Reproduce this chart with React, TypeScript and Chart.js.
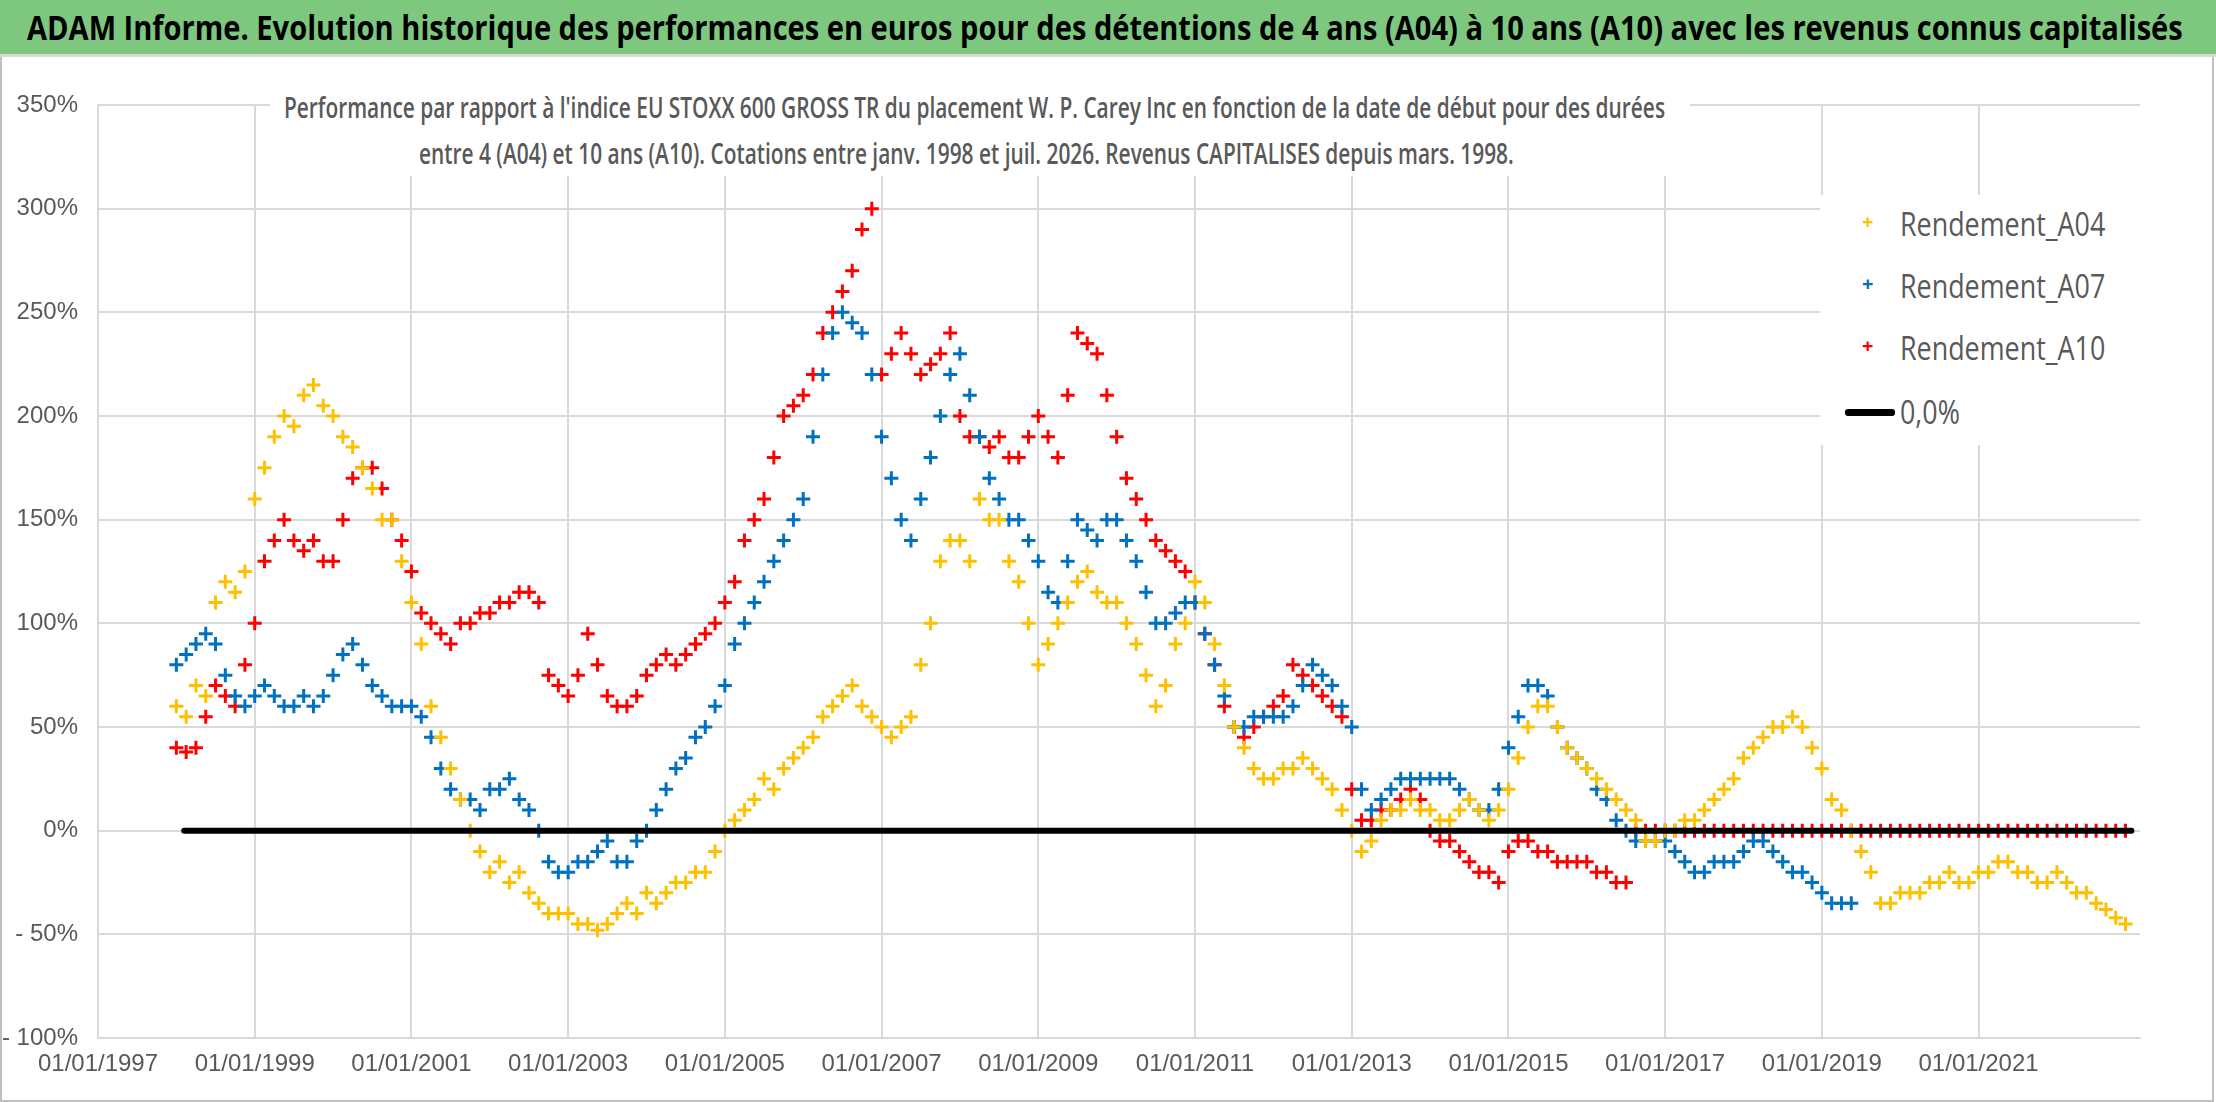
import React, { useEffect, useRef } from "react";
import { Chart, registerables } from "chart.js";
Chart.register(...registerables);

const TITLE = "ADAM Informe. Evolution historique des performances en euros pour des détentions de 4 ans (A04) à 10 ans (A10) avec les revenus connus capitalisés";
const SUB1 = "Performance par rapport à l'indice EU STOXX 600 GROSS TR  du placement W. P. Carey Inc en fonction de la date de début pour des durées";
const SUB2 = "entre 4 (A04) et 10 ans (A10). Cotations entre janv. 1998 et juil. 2026. Revenus CAPITALISES depuis mars. 1998.";
const Y_TICKS = [350, 300, 250, 200, 150, 100, 50, 0, -50, -100];
const X_TICK_YEARS = [1997, 1999, 2001, 2003, 2005, 2007, 2009, 2011, 2013, 2015, 2017, 2019, 2021];
const STEP = 0.125;

const A04_START = 1998;
const A04 = [
  60,55,70,65,110,120,115,125,
  160,175,190,200,195,210,215,205,
  200,190,185,175,165,150,150,130,
  110,90,60,45,30,15,0,-10,
  -20,-15,-25,-20,-30,-35,-40,-40,
  -40,-45,-45,-48,-45,-40,-35,-40,
  -30,-35,-30,-25,-25,-20,-20,-10,
  0,5,10,15,25,20,30,35,
  40,45,55,60,65,70,60,55,
  50,45,50,55,80,100,130,140,
  140,130,160,150,150,130,120,100,
  80,90,100,110,120,125,115,110,
  110,100,90,75,60,70,90,100,
  120,110,90,70,50,40,30,25,
  25,30,30,35,30,25,20,10,
  0,-10,-5,5,10,10,15,10,
  10,5,5,10,15,10,5,10,
  20,35,50,60,60,50,40,35,
  30,25,20,15,10,5,-5,-5,
  0,0,5,5,10,15,20,25,
  35,40,45,50,50,55,50,40,
  30,15,10,0,-10,-20,-35,-35,
  -30,-30,-30,-25,-25,-20,-25,-25,
  -20,-20,-15,-15,-20,-20,-25,-25,
  -20,-25,-30,-30,-35,-38,-42,-45,
];
const A07_START = 1998;
const A07 = [
  80,85,90,95,90,75,65,60,
  65,70,65,60,60,65,60,65,
  75,85,90,80,70,65,60,60,
  60,55,45,30,20,15,15,10,
  20,20,25,15,10,0,-15,-20,
  -20,-15,-15,-10,-5,-15,-15,-5,
  0,10,20,30,35,45,50,60,
  70,90,100,110,120,130,140,150,
  160,190,220,240,250,245,240,220,
  190,170,150,140,160,180,200,220,
  230,210,190,170,160,150,150,140,
  130,115,110,130,150,145,140,150,
  150,140,130,115,100,100,105,110,
  110,95,80,65,50,50,55,55,
  55,55,60,70,80,75,70,60,
  50,20,10,15,20,25,25,25,
  25,25,25,20,15,10,10,20,
  40,55,70,70,65,50,40,35,
  30,20,15,5,0,-5,-5,-5,
  -5,-10,-15,-20,-20,-15,-15,-15,
  -10,-5,-5,-10,-15,-20,-20,-25,
  -30,-35,-35,-35,
];
const A10_START = 1998;
const A10 = [
  40,38,40,55,70,65,60,80,
  100,130,140,150,140,135,140,130,
  130,150,170,175,175,165,150,140,
  125,105,100,95,90,100,100,105,
  105,110,110,115,115,110,75,70,
  65,75,95,80,65,60,60,65,
  75,80,85,80,85,90,95,100,
  110,120,140,150,160,180,200,205,
  210,220,240,250,260,270,290,300,
  220,230,240,230,220,225,230,240,
  200,190,190,185,190,180,180,190,
  200,190,180,210,240,235,230,210,
  190,170,160,150,140,135,130,125,
  110,95,80,60,50,45,50,55,
  60,65,80,75,70,65,60,55,
  20,5,5,10,10,15,20,15,
  0,-5,-5,-10,-15,-20,-20,-25,
  -10,-5,-5,-10,-10,-15,-15,-15,
  -15,-20,-20,-25,-25,
  0,0,0,0,0,0,0,0,0,0,0,0,0,0,0,0,0,0,0,0,0,0,0,0,0,0,0,0,0,0,0,0,0,0,0,0,0,0,0,0,0,0,0,0,0,0,0,0,0,0,0,
];
const ZERO_LINE = [{ x: 1998.1, y: 0 }, { x: 2022.95, y: 0 }];

const toPts = (start: number, arr: number[]) => arr.map((v, i) => ({ x: start + i * STEP, y: v }));

const FONT = "'Open Sans', sans-serif";
const TICK_FONT = "'Liberation Sans', 'Open Sans', sans-serif";

const Squeeze = ({ k, children, style }: any) => (
  <span style={{ display: "inline-block", transform: `scaleX(${k})`, transformOrigin: "left center", whiteSpace: "nowrap", ...style }}>{children}</span>
);

export default function App() {
  const ref = useRef<HTMLCanvasElement>(null);
  useEffect(() => {
    document.body.style.margin = "0";
    const mk = (color: string) => ({
      pointStyle: "cross" as const, pointRadius: 7, borderWidth: 3,
      borderColor: color, backgroundColor: color, showLine: false,
    });
    const chart = new Chart(ref.current!, {
      type: "scatter",
      data: {
        datasets: [
          { label: "zero", data: ZERO_LINE, showLine: true, borderColor: "#000", borderWidth: 6, pointRadius: 0, borderCapStyle: "round" } as any,
          { label: "Rendement_A04", data: toPts(A04_START, A04), ...mk("#FFC000") },
          { label: "Rendement_A07", data: toPts(A07_START, A07), ...mk("#0070C0") },
          { label: "Rendement_A10", data: toPts(A10_START, A10), ...mk("#FF0000") },
        ],
      },
      options: {
        animation: false, responsive: false,
        layout: { padding: { top: 105, right: 76, left: 0, bottom: 0 } },
        plugins: { legend: { display: false }, tooltip: { enabled: false } },
        scales: {
          x: {
            type: "linear", min: 1997, max: 2023.06,
            afterBuildTicks: (s: any) => { s.ticks = X_TICK_YEARS.map((v) => ({ value: v })); },
            afterFit: (s: any) => { s.height = 1102 - 1038; },
            ticks: { color: "#595959", font: { family: TICK_FONT, size: 24 }, maxRotation: 0, padding: 12,
              callback: (v: any) => "01/01/" + v },
            grid: { color: "#d9d9d9", lineWidth: 2, drawTicks: false },
            border: { color: "#d9d9d9", width: 2 },
          },
          y: {
            min: -100, max: 350,
            afterBuildTicks: (s: any) => { s.ticks = Y_TICKS.map((v) => ({ value: v })); },
            afterFit: (s: any) => { s.width = 98; },
            ticks: { color: "#595959", font: { family: TICK_FONT, size: 24 }, padding: 20,
              callback: (v: any) => (v < 0 ? "- " + Math.abs(v) + "%" : v + "%") },
            grid: { color: "#d9d9d9", lineWidth: 2, drawTicks: false },
            border: { display: false },
          },
        },
      },
    });
    return () => chart.destroy();
  }, []);

  const legItem = (color: string, label: string, top: number) => (
    <div style={{ position: "absolute", left: 1900, top, fontSize: 32, color: "#595959", fontFamily: FONT }}>
      <span style={{ position: "absolute", left: -38, top: 6, color, fontSize: 20, fontWeight: "bold" }}>+</span>
      <Squeeze k={0.84}>{label}</Squeeze>
    </div>
  );

  return (
    <div style={{ position: "relative", width: 2216, height: 1102, background: "#fff", overflow: "hidden" }}>
      <div style={{ position: "absolute", left: 0, top: 0, width: 2210, height: 1098, border: "2px solid #bfbfbf" }} />
      <canvas ref={ref} width={2216} height={1102} style={{ position: "absolute", left: 0, top: 0 }} />
      <div style={{ position: "absolute", left: 0, top: 0, width: 2216, height: 54, background: "#7DC87E", borderBottom: "3px solid #d9d9d9",
        fontFamily: FONT, fontWeight: "bold", fontSize: 34, lineHeight: "54px", color: "#000" }}>
        <Squeeze k={0.855} style={{ marginLeft: 27 }}>{TITLE}</Squeeze>
      </div>
      <div style={{ position: "absolute", left: 270, width: 1420, top: 84, height: 92, background: "#fff" }} />
      <div style={{ position: "absolute", left: 284, top: 84, fontFamily: FONT, fontSize: 28, lineHeight: "46px", color: "#595959", fontWeight: 600 }}>
        <div><Squeeze k={0.745}>{SUB1}</Squeeze></div>
        <div style={{ marginLeft: 135 }}><Squeeze k={0.745}>{SUB2}</Squeeze></div>
      </div>
      <div style={{ position: "absolute", left: 1820, top: 195, width: 320, height: 250, background: "#fff" }} />
      {legItem("#FFC000", "Rendement_A04", 202)}
      {legItem("#0070C0", "Rendement_A07", 264)}
      {legItem("#FF0000", "Rendement_A10", 326)}
      <div style={{ position: "absolute", left: 1900, top: 390, fontSize: 32, color: "#595959", fontFamily: FONT }}>
        <span style={{ position: "absolute", left: -55, top: 19, width: 50, height: 7, background: "#000", borderRadius: 3 }} />
        <Squeeze k={0.84}>0,0%</Squeeze>
      </div>
    </div>
  );
}
